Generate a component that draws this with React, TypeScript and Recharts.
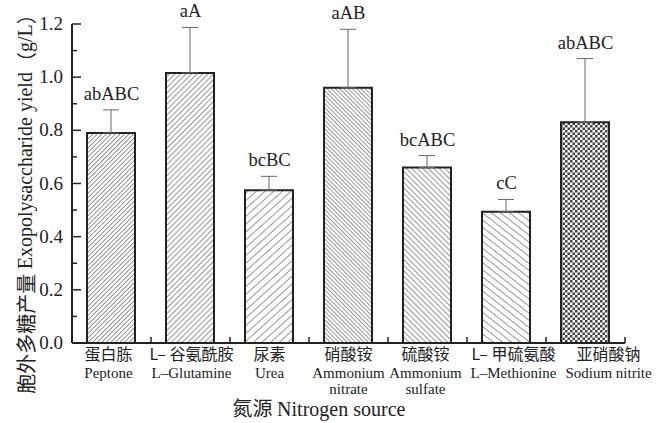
import React from 'react';
import { ComposedChart, Bar, Line, XAxis, YAxis, Cell, ErrorBar, LabelList } from 'recharts';

const categoriesCn = ['蛋白胨', 'L– 谷氨酰胺', '尿素', '硝酸铵', '硫酸铵', 'L– 甲硫氨酸', '亚硝酸钠'];
const categoriesEn = [['Peptone'], ['L–Glutamine'], ['Urea'], ['Ammonium', 'nitrate'], ['Ammonium', 'sulfate'], ['L–Methionine'], ['Sodium nitrite']];
const categoryPos = [0.5, 1.5, 2.5, 3.5, 4.5, 5.5, 6.5];
const yieldValues = [0.79, 1.016, 0.575, 0.96, 0.66, 0.494, 0.83];
const errorValues = [0.087, 0.171, 0.052, 0.22, 0.045, 0.046, 0.24];
const sigLabels = ['abABC', 'aA', 'bcBC', 'aAB', 'bcABC', 'cC', 'abABC'];
const xTicks = [0.5, 1, 1.5, 2, 2.5, 3, 3.5, 4, 4.5, 5, 5.5, 6, 6.5, 7];
const yTicks = [0, 0.1, 0.2, 0.3, 0.4, 0.5, 0.6, 0.7, 0.8, 0.9, 1.0, 1.1, 1.2];
const majorYTicks = [0, 0.2, 0.4, 0.6, 0.8, 1.0, 1.2];

// layout-only nudges of the category labels (px), as in the reference
const labelNudge = [-3, 1, 0, 0, -2, 7, 23];

const data = categoryPos.map((x, i) => ({
  x,
  value: yieldValues[i],
  err: [0, errorValues[i]],
  top: yieldValues[i] + errorValues[i],
  sig: sigLabels[i],
}));

const FONT = "'Liberation Serif', 'DejaVu Serif', serif";
const CJK = "'Noto Sans CJK SC', sans-serif";
const INK = '#222';

const XTick = (props: any) => {
  const { x, y, payload } = props;
  const v = payload.value;
  if (Number.isInteger(v)) {
    return <line x1={x} y1={y} x2={x} y2={y - 6} stroke={INK} strokeWidth={1.5} />;
  }
  const idx = categoryPos.indexOf(v);
  if (idx < 0) return null;
  const cx = x + labelNudge[idx];
  return (
    <g>
      <text x={cx} y={y + 16.5} textAnchor="middle" style={{ fontFamily: CJK }} fontSize={16} fill={INK}>
        {categoriesCn[idx]}
      </text>
      {categoriesEn[idx].map((t, k) => (
        <text key={k} x={cx} y={y + 35 + k * 16} textAnchor="middle" style={{ fontFamily: FONT }} fontSize={15} fill={INK}>
          {t}
        </text>
      ))}
    </g>
  );
};

const YTick = (props: any) => {
  const { x, y, payload } = props;
  const v = payload.value;
  const major = majorYTicks.some((m) => Math.abs(m - v) < 1e-6);
  return (
    <g>
      <line x1={x} y1={y} x2={x + (major ? 9 : 5)} y2={y} stroke={INK} strokeWidth={1.5} />
      {major && (
        <text x={x - 9} y={y + 6} textAnchor="end" style={{ fontFamily: FONT }} fontSize={19} fill={INK}>
          {v.toFixed(1)}
        </text>
      )}
    </g>
  );
};

const patternStroke = '#333';

const Patterns = () => (
  <svg width={0} height={0} style={{ position: 'absolute' }}>
    <defs>
      <pattern id="pat0" patternUnits="userSpaceOnUse" width={3.2} height={10} patternTransform="rotate(45)">
        <rect width={3.2} height={10} fill="#fff" />
        <line x1={0} y1={0} x2={0} y2={10} stroke={patternStroke} strokeWidth={1} />
      </pattern>
      <pattern id="pat1" patternUnits="userSpaceOnUse" width={3.9} height={10} patternTransform="rotate(45)">
        <rect width={3.9} height={10} fill="#fff" />
        <line x1={0} y1={0} x2={0} y2={10} stroke={patternStroke} strokeWidth={1} />
      </pattern>
      <pattern id="pat2" patternUnits="userSpaceOnUse" width={5.8} height={10} patternTransform="rotate(48)">
        <rect width={5.8} height={10} fill="#fff" />
        <line x1={0} y1={0} x2={0} y2={10} stroke={patternStroke} strokeWidth={1} />
      </pattern>
      <pattern id="pat3" patternUnits="userSpaceOnUse" width={3} height={10} patternTransform="rotate(-45)">
        <rect width={3} height={10} fill="#fff" />
        <line x1={0} y1={0} x2={0} y2={10} stroke={patternStroke} strokeWidth={1} />
      </pattern>
      <pattern id="pat4" patternUnits="userSpaceOnUse" width={3.9} height={10} patternTransform="rotate(-45)">
        <rect width={3.9} height={10} fill="#fff" />
        <line x1={0} y1={0} x2={0} y2={10} stroke={patternStroke} strokeWidth={1} />
      </pattern>
      <pattern id="pat5" patternUnits="userSpaceOnUse" width={5.6} height={10} patternTransform="rotate(-52)">
        <rect width={5.6} height={10} fill="#fff" />
        <line x1={0} y1={0} x2={0} y2={10} stroke={patternStroke} strokeWidth={1} />
      </pattern>
      <pattern id="pat6" patternUnits="userSpaceOnUse" width={5} height={5}>
        <rect width={5} height={5} fill="#fff" />
        <rect x={0} y={0} width={2.5} height={2.5} fill="#444" />
        <rect x={2.5} y={2.5} width={2.5} height={2.5} fill="#444" />
      </pattern>
    </defs>
  </svg>
);

const YLabel = () => {
  const cy = 199;
  const cx = 25;
  return (
    <text
      x={cx}
      y={cy}
      transform={`rotate(-90 ${cx} ${cy})`}
      textAnchor="middle"
      dominantBaseline="central"
      fontSize={20}
      fill={INK}
      style={{ fontFamily: FONT }}
    >
      <tspan style={{ fontFamily: CJK }}>胞外多糖产量 </tspan>
      <tspan>Exopolysaccharide yield</tspan>
      <tspan style={{ fontFamily: CJK }}>（</tspan>
      <tspan>g/L</tspan>
      <tspan style={{ fontFamily: CJK }}>）</tspan>
    </text>
  );
};

const XLabel = () => (
  <text x={319} y={416} textAnchor="middle" fontSize={20} fill={INK} style={{ fontFamily: FONT }}>
    <tspan style={{ fontFamily: CJK }}>氮源 </tspan>
    <tspan>Nitrogen source</tspan>
  </text>
);

const SigLabel = (props: any) => {
  const { x, y, value } = props;
  return (
    <text x={x} y={y - 10} textAnchor="middle" fontSize={18.5} fill={INK} style={{ fontFamily: FONT }}>
      {value}
    </text>
  );
};

export default function App() {
  return (
    <div style={{ position: 'absolute', left: 0, top: 0, background: '#fff' }}>
      <Patterns />
      <ComposedChart width={667} height={423} data={data} margin={{ top: 24, right: 42, left: 0, bottom: 0 }}>
        <XAxis
          dataKey="x"
          type="number"
          domain={[0, 7]}
          ticks={xTicks}
          interval={0}
          tick={<XTick />}
          tickLine={false}
          tickSize={0}
          tickMargin={0}
          axisLine={{ stroke: INK, strokeWidth: 2 }}
          height={80}
          label={<XLabel />}
        />
        <YAxis
          type="number"
          domain={[0, 1.2]}
          ticks={yTicks}
          interval={0}
          tick={<YTick />}
          tickLine={false}
          tickSize={0}
          tickMargin={0}
          axisLine={{ stroke: INK, strokeWidth: 2 }}
          width={72}
          label={<YLabel />}
        />
        <Bar dataKey="value" barSize={48} isAnimationActive={false}>
          {data.map((d, i) => (
            <Cell key={i} fill={`url(#pat${i})`} stroke={INK} strokeWidth={2} />
          ))}
          <ErrorBar dataKey="err" direction="y" width={8} stroke="#666" strokeWidth={1} />
        </Bar>
        <Line dataKey="top" stroke="none" dot={false} activeDot={false} isAnimationActive={false}>
          <LabelList dataKey="sig" content={<SigLabel />} />
        </Line>
      </ComposedChart>
    </div>
  );
}
